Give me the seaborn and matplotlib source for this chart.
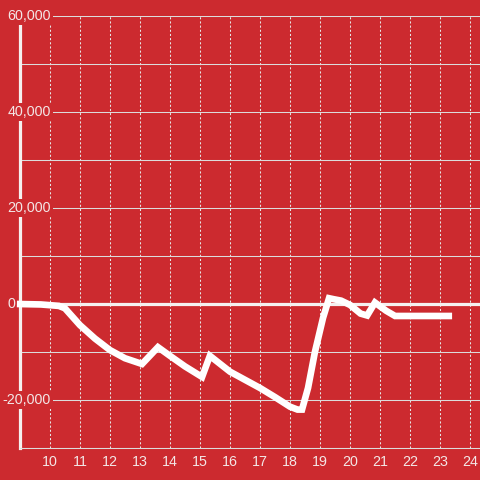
import matplotlib
matplotlib.use("Agg")
import matplotlib.pyplot as plt
import seaborn as sns
import pandas as pd

# Data
hours = [8.9, 9.7, 10.3, 10.5, 11.0, 11.5, 12.0, 12.5, 13.07, 13.6, 14.0, 14.5,
         15.07, 15.33, 16.0, 16.5, 17.0, 17.5, 18.0, 18.25, 18.4, 18.6, 18.83,
         19.1, 19.3, 19.45, 19.7, 20.0, 20.35, 20.57, 20.83, 21.2, 21.5, 22.0,
         22.5, 23.0, 23.4]
values = [0, -100, -400, -900, -4400, -7200, -9600, -11300, -12500, -9000, -10800, -13000,
          -15200, -10800, -14100, -15800, -17500, -19400, -21400, -22000, -22000, -17500, -10000,
          -2900, 1200, 1000, 700, -200, -2000, -2400, 300, -1400, -2500, -2500,
          -2500, -2500, -2500]
y_ticks = [60000, 40000, 20000, 0, -20000]
y_labels = ["60,000", "40,000", "20,000", "0", "-20,000"]
x_ticks = list(range(10, 25))

df = pd.DataFrame({"hour": hours, "value": values})

bg = "#cc2a2f"
txt = "#f3e6e6"

sns.set_style("white")
plt.rcParams["font.family"] = ["Liberation Sans", "DejaVu Sans"]

fig = plt.figure(figsize=(4.8, 4.8), dpi=100, facecolor=bg)
ax = fig.add_axes([0.0427, 0.0667, 1 - 0.0427, 0.9])
ax.set_facecolor(bg)

# grid
ax.set_xlim(9.02, 24.33)
ax.set_ylim(-30000, 60000)
ax.set_yticks(range(-30000, 60001, 10000))
ax.set_xticks(x_ticks)
ax.grid(axis="y", color="#dcdcdc", lw=0.75, zorder=1)
ax.grid(axis="x", color="#e6e6e6", lw=0.75, ls=(0, (2, 2)), zorder=1)
ax.axhline(0, color="#f5f0f0", lw=2.3, zorder=2)

# data line
sns.lineplot(data=df, x="hour", y="value", ax=ax, color="white", lw=4.8,
             zorder=4, clip_on=False, solid_joinstyle="miter", solid_capstyle="butt")

# spines
for s in ["top", "right"]:
    ax.spines[s].set_visible(False)
ax.spines["left"].set_color("#f5f0f0")
ax.spines["left"].set_linewidth(2.3)
ax.spines["left"].set_zorder(2.5)
ax.spines["bottom"].set_color("#dcdcdc")
ax.spines["bottom"].set_linewidth(0.75)

# tick labels
ax.set_yticklabels([])
ax.tick_params(axis="both", length=0)
ax.tick_params(axis="x", colors=txt, labelsize=10.3, pad=5)
ax.set_xlabel("")
ax.set_ylabel("")

for v, lab in zip(y_ticks, y_labels):
    xpos = -0.011 if lab == "0" else 0.066
    ax.text(xpos, v, lab, transform=ax.get_yaxis_transform(), ha="right", va="center",
            color=txt, fontsize=10.3, zorder=3, clip_on=False,
            bbox=dict(facecolor=bg, edgecolor="none", pad=1.5))

fig.savefig("out.png", dpi=100, facecolor=bg)
